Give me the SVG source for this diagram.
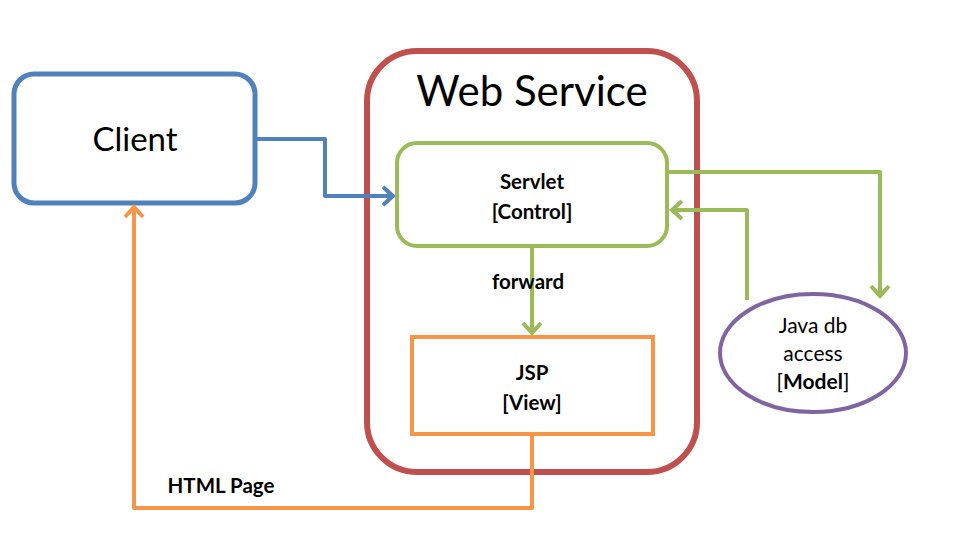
<svg xmlns="http://www.w3.org/2000/svg" width="960" height="555" viewBox="0 0 960 555">
<style>
text{font-family:Lato,"Liberation Sans",sans-serif;fill:#000;text-anchor:middle}
.lbl{font-size:20.5px;font-weight:bold}
.reg{font-size:21px}
.conn{fill:none;stroke-width:4;stroke-linejoin:round}
</style>
<defs>
<marker id="ab" markerWidth="8" markerHeight="8" refX="6" refY="4" orient="auto" markerUnits="userSpaceOnUse" viewBox="0 0 8 8" overflow="visible"><path d="M-4,-5 L6,4 L-4,13" fill="none" stroke="#4F81BD" stroke-width="4"/></marker>
<marker id="ag" markerWidth="8" markerHeight="8" refX="6" refY="4" orient="auto" markerUnits="userSpaceOnUse" viewBox="0 0 8 8" overflow="visible"><path d="M-4,-5 L6,4 L-4,13" fill="none" stroke="#9BBB59" stroke-width="4"/></marker>
<marker id="ao" markerWidth="8" markerHeight="8" refX="6" refY="4" orient="auto" markerUnits="userSpaceOnUse" viewBox="0 0 8 8" overflow="visible"><path d="M-4,-5 L6,4 L-4,13" fill="none" stroke="#F79646" stroke-width="4"/></marker>
</defs>
<rect width="960" height="555" fill="#fff"/>
<g id="webservice">
<rect x="367" y="51" width="330" height="421" rx="50" fill="none" stroke="#C0504D" stroke-width="6"/>
<text x="532" y="106" style="font-size:42px">Web Service</text>
</g>
<g id="client">
<rect x="14" y="74" width="241" height="129" rx="20" fill="#fff" stroke="#4F81BD" stroke-width="5"/>
<text x="135" y="151" style="font-size:33px">Client</text>
</g>
<g id="connectors">
<path class="conn" d="M255,139 H325 V196 H393" stroke="#4F81BD" marker-end="url(#ab)"/>
<path class="conn" d="M667,172 H880 V296" stroke="#9BBB59" marker-end="url(#ag)"/>
<path class="conn" d="M747,300 V210 H672" stroke="#9BBB59" marker-end="url(#ag)"/>
<path class="conn" d="M532,246 V333" stroke="#9BBB59" marker-end="url(#ag)"/>
<path class="conn" d="M532,434 V508 H134 V207" stroke="#F79646" marker-end="url(#ao)"/>
<text class="lbl" x="528" y="289">forward</text>
<text class="lbl" x="221" y="493">HTML Page</text>
</g>
<g id="servlet">
<rect x="397" y="143" width="270" height="103" rx="20" fill="#fff" stroke="#9BBB59" stroke-width="4"/>
<text class="lbl" x="532" y="189">Servlet</text>
<text class="lbl" x="532" y="219">[Control]</text>
</g>
<g id="jsp">
<rect x="412" y="337" width="241" height="97" fill="#fff" stroke="#F79646" stroke-width="4"/>
<text class="lbl" x="532" y="380">JSP</text>
<text class="lbl" x="532" y="410">[View]</text>
</g>
<g id="model">
<ellipse cx="813" cy="353" rx="93" ry="59" fill="#fff" stroke="#8064A2" stroke-width="4"/>
<text class="reg" x="813" y="333">Java db</text>
<text class="reg" x="813" y="361">access</text>
<text class="reg" x="813" y="389">[<tspan font-weight="bold">Model</tspan>]</text>
</g>
</svg>
